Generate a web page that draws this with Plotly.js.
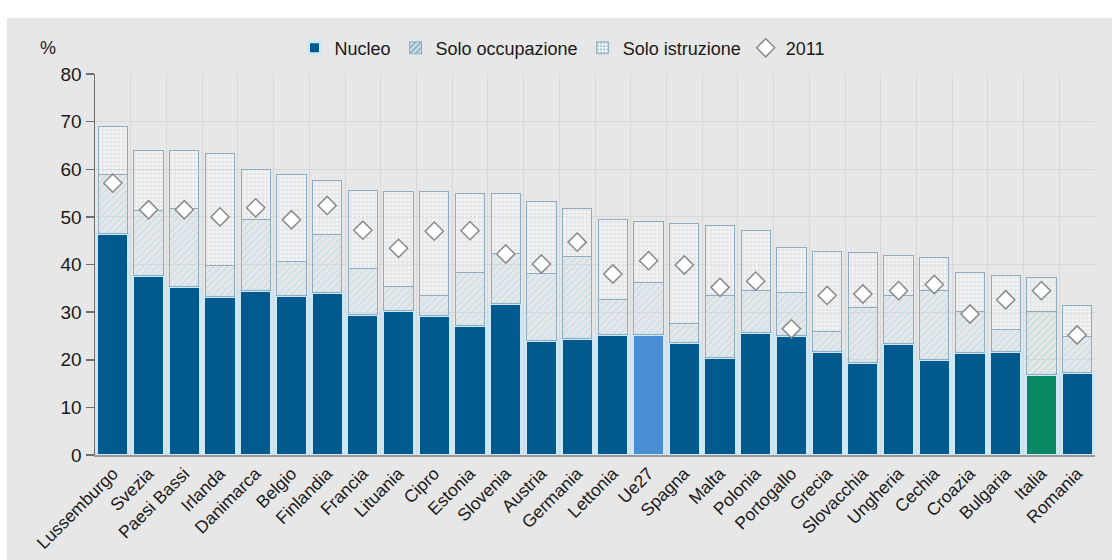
<!DOCTYPE html>
<html>
<head>
<meta charset="utf-8">
<script src="https://cdn.plot.ly/plotly-3.0.1.min.js"></script>
<style>
  html, body { margin: 0; padding: 0; background: #ffffff; }
  #chart { position: absolute; left: 7px; top: 18px; width: 1105px; height: 542px; }
</style>
</head>
<body>
<div id="chart"></div>
<script>
// Paesi UE, in ordine di valore totale
const paesi = ["Lussemburgo", "Svezia", "Paesi Bassi", "Irlanda", "Danimarca", "Belgio",
  "Finlandia", "Francia", "Lituania", "Cipro", "Estonia", "Slovenia", "Austria", "Germania",
  "Lettonia", "Ue27", "Spagna", "Malta", "Polonia", "Portogallo", "Grecia", "Slovacchia",
  "Ungheria", "Cechia", "Croazia", "Bulgaria", "Italia", "Romania"];

// Quote (%) per componente
const nucleo = [46.5, 37.6, 35.4, 33.3, 34.5, 33.5, 34.2, 29.6, 30.3, 29.3, 27.2, 31.9, 24.0, 24.5,
  25.3, 25.2, 23.6, 20.5, 25.8, 25.1, 21.7, 19.4, 23.5, 20.0, 21.5, 21.7, 16.8, 17.4];
const soloOccupazione = [12.5, 13.8, 16.3, 6.5, 14.9, 7.1, 12.0, 9.5, 5.1, 4.2, 11.1, 10.5, 14.2, 17.2,
  7.3, 11.1, 4.0, 13.0, 8.7, 9.1, 4.3, 11.5, 10.0, 14.5, 8.7, 4.6, 13.3, 7.4];
const soloIstruzione = [9.9, 12.6, 12.2, 23.6, 10.5, 18.4, 11.4, 16.4, 20.0, 21.8, 16.6, 12.5, 15.0, 10.0,
  16.9, 12.8, 21.0, 14.6, 12.6, 9.4, 16.8, 11.6, 8.3, 7.0, 8.2, 11.4, 7.2, 6.5];
const valori2011 = [57.1, 51.5, 51.5, 50.0, 51.9, 49.4, 52.4, 47.2, 43.4, 47.0, 47.1, 42.2, 40.1, 44.7,
  38.0, 40.8, 39.9, 35.2, 36.5, 26.5, 33.5, 33.8, 34.5, 35.8, 29.6, 32.6, 34.5, 25.2];

// Colori: Ue27 e Italia evidenziate
const coloreNucleo = paesi.map(p => p === "Ue27" ? "#4a8fd6" : (p === "Italia" ? "#0a8763" : "#005a8d"));
const sfondoOccupazione = paesi.map(p => p === "Italia" ? "#c0e0d3" : (p === "Ue27" ? "#c9dff2" : "#c7dfeb"));
const tratteggioOccupazione = paesi.map(p => p === "Italia" ? "#71aa93" : "#789fb4");
const sfondoIstruzione = paesi.map(p => p === "Italia" ? "#eaf5f0" : "#f1f7fa");
const puntiIstruzione = paesi.map(p => p === "Italia" ? "#93c2b0" : "#97b9c9");

const lineaBordo = { color: "#8fadbe", width: 1 };

const traces = [
  {
    type: "bar", name: "Nucleo", x: paesi, y: nucleo, width: 0.9,
    marker: { color: coloreNucleo, line: { color: "#cfe7f4", width: 3 } },
    hoverinfo: "skip"
  },
  {
    type: "bar", name: "Solo occupazione", x: paesi, y: soloOccupazione, width: 0.82,
    marker: {
      color: sfondoOccupazione,
      line: lineaBordo,
      pattern: { shape: "/", bgcolor: sfondoOccupazione, fgcolor: tratteggioOccupazione,
                 size: 5, solidity: 0.3, fillmode: "replace" }
    },
    hoverinfo: "skip"
  },
  {
    type: "bar", name: "Solo istruzione", x: paesi, y: soloIstruzione, width: 0.82,
    marker: {
      color: sfondoIstruzione,
      line: lineaBordo,
      pattern: { shape: ".", bgcolor: sfondoIstruzione, fgcolor: puntiIstruzione,
                 size: 4, solidity: 0.35, fillmode: "replace" }
    },
    hoverinfo: "skip"
  },
  {
    type: "scatter", mode: "markers", name: "2011", x: paesi, y: valori2011,
    marker: { symbol: "diamond", size: 14, color: "#ffffff", line: { color: "#8a8a8a", width: 1.5 } },
    hoverinfo: "skip"
  }
];

const layout = {
  width: 1105, height: 542,
  margin: { l: 88, r: 17, t: 53, b: 105 },
  paper_bgcolor: "#e7e7e7",
  plot_bgcolor: "#e7e7e7",
  barmode: "stack",
  font: { family: "Liberation Sans, Arial, sans-serif", size: 17, color: "#1a1a1a" },
  showlegend: true,
  legend: {
    orientation: "h", x: 0.467, xanchor: "center", y: 1.068, yanchor: "middle",
    bgcolor: "rgba(0,0,0,0)", font: { size: 18, color: "#1a1a1a" },
    itemwidth: 30, tracegroupgap: 0, traceorder: "normal"
  },
  xaxis: {
    type: "category",
    tickson: "boundaries",
    showgrid: true, gridcolor: "#d7d7d7", gridwidth: 1,
    ticks: "", tickangle: -45,
    tickfont: { size: 17.5, color: "#1a1a1a" },
    showline: true, linecolor: "#9a9a9a", linewidth: 1.5,
    range: [-0.5, paesi.length - 0.5],
    fixedrange: true
  },
  yaxis: {
    range: [0, 80], dtick: 10,
    showgrid: true, gridcolor: "#d7d7d7", gridwidth: 1,
    zeroline: false,
    showline: true, linecolor: "#6f6f6f", linewidth: 1.5,
    ticks: "outside", ticklen: 8, tickcolor: "#6f6f6f", tickwidth: 1.5,
    tickfont: { size: 19, color: "#1a1a1a" },
    fixedrange: true
  },
  annotations: [
    { text: "%", xref: "paper", yref: "paper", x: -0.047, y: 1.068,
      xanchor: "center", yanchor: "middle", showarrow: false,
      font: { size: 18, color: "#1a1a1a" } }
  ]
};

Plotly.newPlot("chart", traces, layout, { displayModeBar: false, staticPlot: true });
</script>
</body>
</html>
